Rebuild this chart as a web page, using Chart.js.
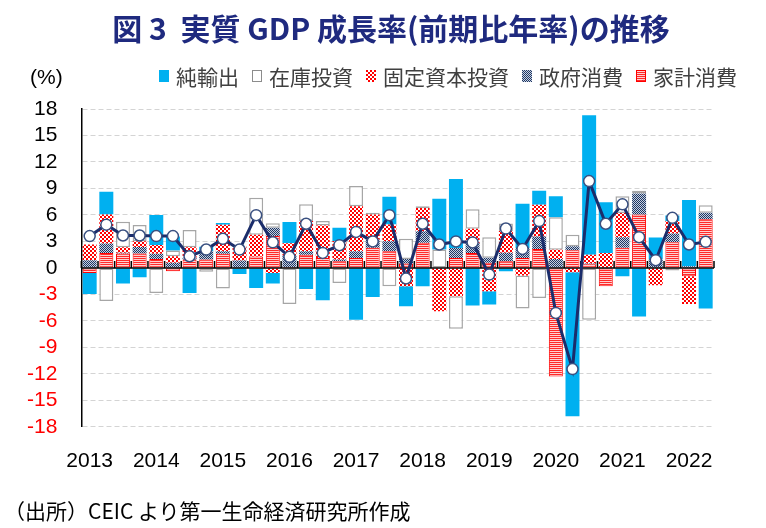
<!DOCTYPE html>
<html><head><meta charset="utf-8">
<script src="https://cdn.jsdelivr.net/npm/chart.js@4.4.1/dist/chart.umd.min.js"></script>
<style>
html,body{margin:0;padding:0;background:#fff;}
#wrap{position:relative;width:766px;height:528px;overflow:hidden;}
#c{position:absolute;left:0;top:0;}
#title{position:absolute;left:0;top:7px;width:766px;padding-left:16px;box-sizing:border-box;text-align:center;font-family:"Noto Sans CJK JP";font-weight:bold;font-size:30px;color:#1F2A7F;line-height:40px;white-space:nowrap;}
#unit{position:absolute;left:30px;top:64px;font-family:"Liberation Sans";font-size:21px;line-height:26px;color:#000;}
#legend{position:absolute;left:159px;top:62px;display:flex;align-items:center;font-family:"Noto Sans CJK JP";font-size:21px;color:#404040;line-height:28px;white-space:nowrap;}
.item{display:flex;align-items:center;margin-right:13px;}
.item canvas{margin-right:7px;display:block;}
#note{position:absolute;left:4px;top:496px;font-family:"Noto Sans CJK JP";font-size:21px;color:#000;line-height:28px;white-space:nowrap;}
</style></head><body>
<div id="wrap">
<canvas id="c" width="766" height="528"></canvas>
<div id="title">図 3&nbsp;&nbsp;実質 GDP 成長率(前期比年率)の推移</div>
<div id="unit">(%)</div>
<div id="legend"></div>
<div id="note">（出所）CEIC より第一生命経済研究所作成</div>
</div>
<script>
// ---- data (2013Q1 - 2022Q2) ----
const categories = [
 '2013Q1','2013Q2','2013Q3','2013Q4','2014Q1','2014Q2','2014Q3','2014Q4',
 '2015Q1','2015Q2','2015Q3','2015Q4','2016Q1','2016Q2','2016Q3','2016Q4',
 '2017Q1','2017Q2','2017Q3','2017Q4','2018Q1','2018Q2','2018Q3','2018Q4',
 '2019Q1','2019Q2','2019Q3','2019Q4','2020Q1','2020Q2','2020Q3','2020Q4',
 '2021Q1','2021Q2','2021Q3','2021Q4','2022Q1','2022Q2'];
const household   = [-0.57,1.70,1.63,1.63,1.0,-0.38,0.95,0.95,1.6,0,1.3,3.6,0.1,1.5,1.13,0.76,1.13,2.27,1.9,0.5,2.84,0,1.13,1.7,0.57,0.76,1.13,2.15,-12.3,2.0,0.4,-2.08,2.27,6.05,0,2.9,-0.95,5.5];
const government  = [0.87,1.06,0.1,0.75,0.6,0.57,0.2,0.95,0.3,0.83,0,0.95,1.3,0.4,0,0.2,0.76,0.95,1.13,0.5,1.3,0,1.13,1.13,0.57,0.95,1.13,1.4,1.0,0.45,0.1,0,1.2,2.38,0.95,1.0,0.19,0.76];
const fixedInv    = [1.78,3.3,0.6,0.64,1.0,0.76,1.2,0,3.0,1.6,2.46,-0.57,1.4,3.4,3.67,2.1,5.1,2.84,1.9,-2.08,2.65,-4.9,-3.2,1.6,-2.65,2.46,-0.87,3.6,1.06,-0.5,1.0,1.7,2.76,0,-1.97,1.4,-3.14,0];
const inventory   = [0,-3.74,2.9,1.85,-2.84,0.64,1.93,-0.45,-2.34,0,4.2,0.5,-4.08,1.9,0.5,-1.7,2.3,0.2,-2.08,2.3,0.2,2.08,-3.7,2.2,2.34,0.87,-3.74,-3.4,3.67,1.3,-5.86,0,1.9,0.3,0,-0.3,0,0.83];
const netExports  = [-2.38,2.57,-1.78,-1.06,3.4,1.6,-2.84,0.5,0.2,-0.68,-2.27,-1.2,2.4,-2.4,-3.67,1.5,-5.86,-3.3,3.14,-2.27,-2.08,5.76,7.8,-4.27,-1.5,-0.38,5.0,1.6,2.38,-16.3,15.8,5.75,-0.95,-5.5,2.5,0.64,7.5,-4.6];
const gdpGrowth   = [3.6,4.9,3.67,3.67,3.6,3.6,1.32,2.08,3.3,2.08,5.97,2.9,1.25,5.0,1.7,2.57,4.08,3.0,5.97,-1.2,5.0,2.65,3.0,2.88,-0.76,4.46,2.15,5.3,-5.1,-11.46,9.83,5.0,7.2,3.48,0.87,5.67,2.65,2.95];
const yTicks = {min:-18, max:18, step:3};

// ---- patterns ----
function tile(w,h,draw){const c=document.createElement('canvas');c.width=w;c.height=h;const x=c.getContext('2d');draw(x);return x.createPattern(c,'repeat');}
const checkRed = tile(4,4,x=>{x.fillStyle='#fff';x.fillRect(0,0,4,4);x.fillStyle='#FF0000';x.fillRect(0,0,2,2);x.fillRect(2,2,2,2);});
const checkNavy = tile(2,2,x=>{x.fillStyle='#C8D0E0';x.fillRect(0,0,2,2);x.fillStyle='#1F3864';x.fillRect(0,0,1,1);x.fillRect(1,1,1,1);});
const stripeRed = tile(2,2,x=>{x.fillStyle='#FFD0D0';x.fillRect(0,0,2,2);x.fillStyle='#FF2A2A';x.fillRect(0,0,2,1);});

// ---- legend (HTML) ----
const legendItems = [
 {label:'純輸出', fill:'#00B0F0', border:null},
 {label:'在庫投資', fill:'#FFFFFF', border:'#8C8C8C'},
 {label:'固定資本投資', fill:checkRed, border:null},
 {label:'政府消費', fill:checkNavy, border:null},
 {label:'家計消費', fill:stripeRed, border:'#FF0000'}];
const lg=document.getElementById('legend');
legendItems.forEach(it=>{
  const d=document.createElement('div');d.className='item';
  const sw=document.createElement('canvas');sw.width=10;sw.height=12;
  const x=sw.getContext('2d');x.fillStyle=it.fill;x.fillRect(0,0,10,12);
  if(it.border){x.strokeStyle=it.border;x.lineWidth=1;x.strokeRect(0.5,0.5,9,11);}
  const s=document.createElement('span');s.textContent=it.label;
  d.appendChild(sw);d.appendChild(s);lg.appendChild(d);
});

// ---- zero line plugin ----
const zeroLine={id:'zeroLine',beforeDatasetDraw(chart,args){
  if(args.index!==5) return;
  const {ctx,chartArea:{left,right},scales:{x,y}}=chart;
  const y0=y.getPixelForValue(0);
  ctx.save();ctx.strokeStyle='#000';ctx.lineWidth=1.5;ctx.beginPath();
  ctx.moveTo(left,y0);ctx.lineTo(right,y0);
  const n=categories.length;
  for(let i=0;i<=n;i++){
    let px;
    if(i===0) px=left; else if(i===n) px=right;
    else px=(x.getPixelForValue(i-1)+x.getPixelForValue(i))/2;
    ctx.moveTo(px,y0);ctx.lineTo(px,y0-7);
  }
  ctx.stroke();ctx.restore();
}};

const common={type:'bar',stack:'bars',order:1,categoryPercentage:1.0,barPercentage:0.84,borderSkipped:false};
new Chart(document.getElementById('c'),{
  type:'bar',
  data:{labels:categories,datasets:[
    {...common,label:'家計消費',data:household,backgroundColor:stripeRed,borderColor:'#FF0000',borderWidth:1},
    {...common,label:'政府消費',data:government,backgroundColor:checkNavy,borderWidth:0},
    {...common,label:'固定資本投資',data:fixedInv,backgroundColor:checkRed,borderWidth:0},
    {...common,label:'在庫投資',data:inventory,backgroundColor:'#FFFFFF',borderColor:'#A6A6A6',borderWidth:1.5},
    {...common,label:'純輸出',data:netExports,backgroundColor:'#00B0F0',borderWidth:0},
    {type:'line',label:'実質GDP成長率',data:gdpGrowth,stack:'line',order:0,borderColor:'#1B2D6B',borderWidth:3,
     pointRadius:5.5,pointBackgroundColor:'#FFFFFF',pointBorderColor:'#3A5080',pointBorderWidth:1.5,tension:0}
  ]},
  options:{
    responsive:false,animation:false,devicePixelRatio:1,
    layout:{padding:{left:3,right:52,top:109,bottom:32}},
    plugins:{legend:{display:false},tooltip:{enabled:false}},
    scales:{
      x:{stacked:true,grid:{display:false,drawTicks:false},border:{display:false},
         ticks:{autoSkip:false,maxRotation:0,minRotation:0,padding:22,color:'#000',
           font:{family:'Liberation Sans',size:21},
           callback:(v,i)=>categories[i].endsWith('Q1')?categories[i].slice(0,4):''}},
      y:{stacked:true,min:yTicks.min,max:yTicks.max,
         ticks:{stepSize:yTicks.step,autoSkip:false,padding:24,color:c=>c.tick.value<0?'#FF0000':'#000',
           font:{family:'Liberation Sans',size:21}},
         grid:{color:c=>c.tick.value===0?'rgba(0,0,0,0)':'#D4D4D4',lineWidth:1,drawTicks:false},
         border:{display:true,color:'#000',width:1.5,dash:[5,3]}}
    }
  },
  plugins:[zeroLine]
});
</script>
</body></html>
